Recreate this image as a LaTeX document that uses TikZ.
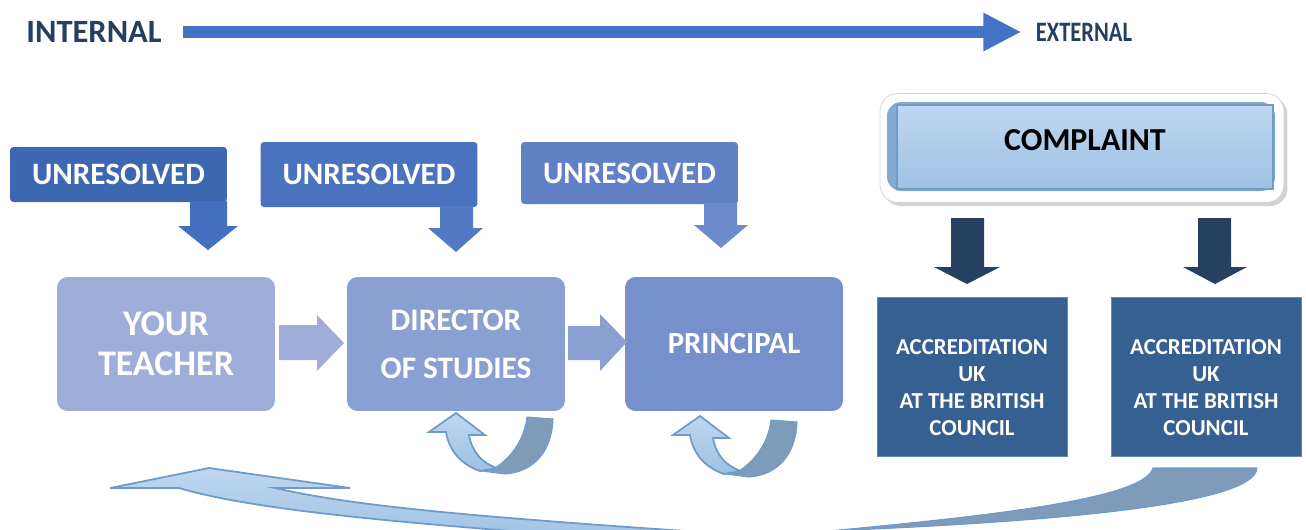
\documentclass[tikz,border=0pt]{standalone}
\usepackage{fontspec}
\setmainfont{Carlito}
\usetikzlibrary{arrows.meta,shadows}

\definecolor{navy}{RGB}{36,63,96}
\definecolor{arrowblue}{RGB}{68,114,196}
\definecolor{unresA}{RGB}{61,103,177}
\definecolor{unresB}{RGB}{75,114,190}
\definecolor{unresC}{RGB}{96,129,198}
\definecolor{downA}{RGB}{66,112,190}
\definecolor{downB}{RGB}{84,121,196}
\definecolor{downC}{RGB}{108,139,204}
\definecolor{stageA}{RGB}{159,174,216}
\definecolor{stageB}{RGB}{138,160,210}
\definecolor{stageC}{RGB}{117,144,202}
\definecolor{accblue}{RGB}{55,96,146}
\definecolor{darkarrow}{RGB}{38,64,96}
\definecolor{skytop}{RGB}{190,215,239}
\definecolor{skybot}{RGB}{157,193,228}
\definecolor{skyline}{RGB}{110,155,200}
\definecolor{ribbon}{RGB}{126,155,186}

\begin{document}
\begin{tikzpicture}
        [x=0.02cm, y=-0.02cm,
         unres/.style={rounded corners=2pt, text=white, font=\fontsize{17.7}{20}\selectfont\bfseries, minimum width=4.34cm},
         stage/.style={rounded corners=6pt, text=white, align=center, minimum width=4.36cm, minimum height=2.68cm},
         accbox/.style={fill=accblue, draw=accblue!75!white, text=white, align=center, font=\fontsize{13}{15.3}\selectfont\bfseries, minimum width=3.8cm, minimum height=3.18cm, text height=2.34cm, text depth=0pt},
         sky/.style={top color=skytop, bottom color=skybot, draw=skyline, line width=1pt},
         back/.style={fill=ribbon, draw=skyline, line width=0.6pt}]

        \useasboundingbox (0,0) rectangle (1306,529);
        \clip (0,0) rectangle (1306,529);

        % internal -> external
        \node[text=navy, font=\fontsize{18.5}{20}\selectfont\bfseries] (internal) at (94,32) {INTERNAL};
        \node[text=navy, font=\fontsize{16}{18}\selectfont\bfseries] (external) at (1084,32) {\scalebox{0.8}[1]{EXTERNAL}};
        \draw[line width=0.24cm, arrowblue, -{Triangle[length=0.76cm,width=0.72cm]}, shorten <=0.3cm, shorten >=0.17cm] (internal.east) -- (external.west);

        % unresolved boxes
        \node[unres, fill=unresA, minimum height=1.1cm] (u1) at (118.5,174.5) {UNRESOLVED};
        \node[unres, fill=unresB, minimum height=1.3cm] (u2) at (369,174.5) {UNRESOLVED};
        \node[unres, fill=unresC, minimum height=1.24cm] (u3) at (629.5,173) {UNRESOLVED};

        \fill[downA] (190,201) -- (227,201) -- (227,226) -- (238,226) -- (208,250) -- (178,226) -- (190,226) -- cycle;
        \fill[downB] (440,206) -- (473,206) -- (473,228) -- (483,228) -- (456,252) -- (428,228) -- (440,228) -- cycle;
        \fill[downC] (704,203) -- (737,203) -- (737,225) -- (748,225) -- (721,248) -- (694,225) -- (704,225) -- cycle;

        % stages
        \node[stage, fill=stageA, font=\fontsize{20.5}{22.7}\selectfont\bfseries] (teacher) at (166,344) {YOUR\\TEACHER};
        \node[stage, fill=stageB, font=\fontsize{17.8}{27.2}\selectfont\bfseries] (director) at (456,344) {DIRECTOR\\OF STUDIES};
        \node[stage, fill=stageC, font=\fontsize{17.5}{20}\selectfont\bfseries] (principal) at (734,344) {PRINCIPAL};

        \fill[stageA] (279,325) -- (317,325) -- (317,315) -- (344,343) -- (317,371) -- (317,360) -- (279,360) -- cycle;
        \fill[stageB] (568,326) -- (600,326) -- (600,314) -- (627,342) -- (600,371) -- (600,360) -- (568,360) -- cycle;

        % turn-back arrows
        \foreach \dx/\dy in {0/0, 244/3} {
          \begin{scope}[shift={(\dx,\dy)}]
            \draw[back] (495,468) .. controls (515,455) and (525,435) .. (527,417) -- (553,419) .. controls (552,450) and (535,472) .. (505,474) -- (482,471) -- cycle;
            \draw[sky] (456,413) -- (485,435) -- (469,435) .. controls (472,452) and (482,463) .. (497,468) -- (480,471) .. controls (460,464) and (449,450) .. (446,432) -- (429,432) -- cycle;
          \end{scope}
        }

        % complaint
        \node[fill=white, draw=gray!35, rounded corners=10pt, drop shadow={shadow xshift=2pt, shadow yshift=-2pt, opacity=0.35}, minimum width=8.08cm, minimum height=2.18cm] (frame) at (1082,148) {};
        \fill[skyline!85, rounded corners=8pt] (887,102) rectangle (1275,191);
        \node[sky, line width=1.2pt, text=black, font=\fontsize{18.2}{20}\selectfont\bfseries, minimum width=7.52cm, minimum height=1.68cm, text depth=0.28cm] (complaint) at (1085,147) {COMPLAINT};

        \fill[darkarrow] (951,218) -- (984,218) -- (984,267) -- (1000,267) -- (967,284) -- (934,267) -- (951,267) -- cycle;
        \fill[darkarrow] (1198,218) -- (1231,218) -- (1231,267) -- (1247,267) -- (1215,284) -- (1183,267) -- (1198,267) -- cycle;

        \node[accbox] (acc1) at (972,376.5) {ACCREDITATION\\UK\\AT THE BRITISH\\COUNCIL};
        \node[accbox] (acc2) at (1206,376.5) {ACCREDITATION\\UK\\AT THE BRITISH\\COUNCIL};

        % back to the teacher
        \draw[back] (1153,468) -- (1257,468) .. controls (1255,505) and (1050,522) .. (828,531) .. controls (1000,515) and (1145,498) .. (1153,468) -- cycle;
        \draw[sky] (110,488) -- (209,468) -- (350,488) -- (275,488) .. controls (350,505) and (450,515) .. (700,532) -- (700,545) .. controls (420,525) and (260,512) .. (179,488) -- cycle;

      \end{tikzpicture}
\end{document}
